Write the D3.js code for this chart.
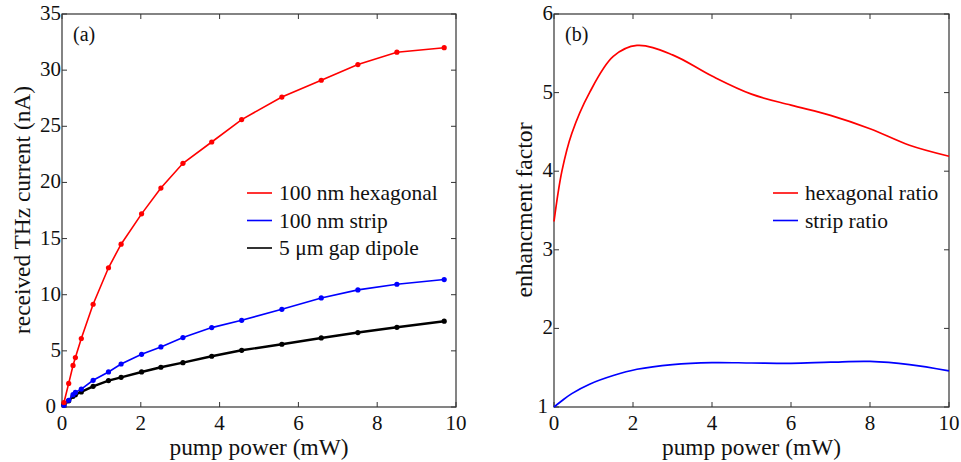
<!DOCTYPE html>
<html>
<head>
<meta charset="UTF-8">
<script src="https://d3js.org/d3.v7.min.js"></script>
<style>
  body { margin: 0; background: #fff; }
  svg text { font-family: "Liberation Serif", "Times New Roman", serif; fill: #111; }
</style>
</head>
<body>
<svg width="961" height="462"></svg>
<script>
// panel (a) data: pump power (mW) vs received current (nA)
const powerA = [0.05, 0.17, 0.28, 0.34, 0.49, 0.79, 1.18, 1.50, 2.02, 2.51, 3.07, 3.80, 4.56, 5.58, 6.58, 7.51, 8.50, 9.70];
const hexCurrent = [0.4, 2.1, 3.7, 4.4, 6.1, 9.15, 12.4, 14.5, 17.2, 19.5, 21.7, 23.6, 25.6, 27.6, 29.1, 30.5, 31.6, 32.0];
const stripCurrent = [0.15, 0.6, 1.1, 1.3, 1.6, 2.38, 3.12, 3.83, 4.69, 5.35, 6.18, 7.07, 7.72, 8.70, 9.71, 10.43, 10.93, 11.35];
const dipoleCurrent = [0.2, 0.55, 0.95, 1.1, 1.34, 1.84, 2.35, 2.64, 3.12, 3.54, 3.95, 4.52, 5.05, 5.59, 6.15, 6.63, 7.1, 7.64];

// panel (b) data: enhancement ratios
const powerB = [0, 0.2, 0.45, 0.9, 1.5, 2.1, 3.0, 4.0, 5.0, 6.0, 7.0, 8.0, 9.0, 10.0];
const hexRatio = [3.36, 4.0, 4.48, 5.0, 5.46, 5.6, 5.48, 5.21, 4.98, 4.84, 4.71, 4.54, 4.33, 4.19];
const stripRatio = [1.0, 1.08, 1.17, 1.29, 1.40, 1.48, 1.54, 1.565, 1.56, 1.555, 1.57, 1.58, 1.54, 1.46];

const xTicks = [0, 2, 4, 6, 8, 10];
const yTicksA = [0, 5, 10, 15, 20, 25, 30, 35];
const yTicksB = [1, 2, 3, 4, 5, 6];

const svg = d3.select("svg");

function frame(x, y, xt, yt, label, ytitle, ybase, ylen) {
  const g = svg.append("g");
  const [x0, x1] = x.range(), [y0, y1] = y.range();
  g.append("rect").attr("x", x0).attr("y", y1).attr("width", x1 - x0).attr("height", y0 - y1)
    .attr("fill", "none").attr("stroke", "#333").attr("stroke-width", 1.2);
  xt.forEach(t => {
    g.append("line").attr("x1", x(t)).attr("x2", x(t)).attr("y1", y0).attr("y2", y0 - 5).attr("stroke", "#333");
    g.append("line").attr("x1", x(t)).attr("x2", x(t)).attr("y1", y1).attr("y2", y1 + 5).attr("stroke", "#333");
    g.append("text").attr("x", x(t)).attr("y", 430).attr("text-anchor", "middle")
      .attr("font-size", 21).text(t);
  });
  yt.forEach((t, i) => {
    g.append("line").attr("x1", x0).attr("x2", x0 + 5).attr("y1", y(t)).attr("y2", y(t)).attr("stroke", "#333");
    g.append("line").attr("x1", x1).attr("x2", x1 - 5).attr("y1", y(t)).attr("y2", y(t)).attr("stroke", "#333");
    // lowest label nudged left so it clears the x-axis "0"
    g.append("text").attr("x", i === 0 ? x0 - 6 : x0 - 1).attr("y", y(t) + 6).attr("text-anchor", "end")
      .attr("font-size", 21).text(t);
  });
  g.append("text").attr("x", (x0 + x1) / 2).attr("y", 455).attr("text-anchor", "middle")
    .attr("font-size", 24).attr("textLength", 179).attr("lengthAdjust", "spacingAndGlyphs")
    .text("pump power (mW)");
  g.append("text").attr("transform", `translate(${ybase},210) rotate(-90)`).attr("text-anchor", "middle")
    .attr("font-size", 23).attr("textLength", ylen).attr("lengthAdjust", "spacingAndGlyphs")
    .text(ytitle);
  g.append("text").attr("x", x0 + 11).attr("y", 41).attr("font-size", 20).text(label);
}

function legend(items, lx, ly) {
  items.forEach((it, i) => {
    const yy = ly + i * 27.5;
    svg.append("line").attr("x1", lx).attr("x2", lx + 25).attr("y1", yy).attr("y2", yy)
      .attr("stroke", it.color).attr("stroke-width", 1.6);
    svg.append("text").attr("x", lx + 32).attr("y", yy + 7).attr("font-size", 21.5).text(it.name);
  });
}

// panel (a)
const xA = d3.scaleLinear().domain([0, 10]).range([62, 456]);
const yA = d3.scaleLinear().domain([0, 35]).range([407, 14]);
frame(xA, yA, xTicks, yTicksA, "(a)", "received THz current (nA)", 30, 248);

const seriesA = [
  { name: "100 nm hexagonal", vals: hexCurrent, color: "#ff0000", w: 1.6 },
  { name: "100 nm strip", vals: stripCurrent, color: "#0000ff", w: 1.6 },
  { name: "5 \u03bcm gap dipole", vals: dipoleCurrent, color: "#000000", w: 2.4 }
];
const lineA = d3.line().x(d => xA(d[0])).y(d => yA(d[1]));
seriesA.slice().reverse().forEach(s => {
  const pts = powerA.map((p, i) => [p, s.vals[i]]);
  svg.append("path").datum(pts).attr("d", lineA).attr("fill", "none")
    .attr("stroke", s.color).attr("stroke-width", s.w);
  svg.append("g").selectAll("circle").data(pts).join("circle")
    .attr("cx", d => xA(d[0])).attr("cy", d => yA(d[1])).attr("r", 2.6).attr("fill", s.color);
});
legend(seriesA, 247, 193);

// panel (b)
const xB = d3.scaleLinear().domain([0, 10]).range([554, 949]);
const yB = d3.scaleLinear().domain([1, 6]).range([407, 14]);
frame(xB, yB, xTicks, yTicksB, "(b)", "enhancment factor", 532, 175);

const seriesB = [
  { name: "hexagonal ratio", vals: hexRatio, color: "#ff0000", w: 1.7 },
  { name: "strip ratio", vals: stripRatio, color: "#0000ff", w: 1.7 }
];
const lineB = d3.line().x(d => xB(d[0])).y(d => yB(d[1])).curve(d3.curveCatmullRom.alpha(0.5));
seriesB.forEach(s => {
  const pts = powerB.map((p, i) => [p, s.vals[i]]);
  svg.append("path").datum(pts).attr("d", lineB).attr("fill", "none")
    .attr("stroke", s.color).attr("stroke-width", s.w);
});
legend(seriesB, 773, 193);
</script>
</body>
</html>
